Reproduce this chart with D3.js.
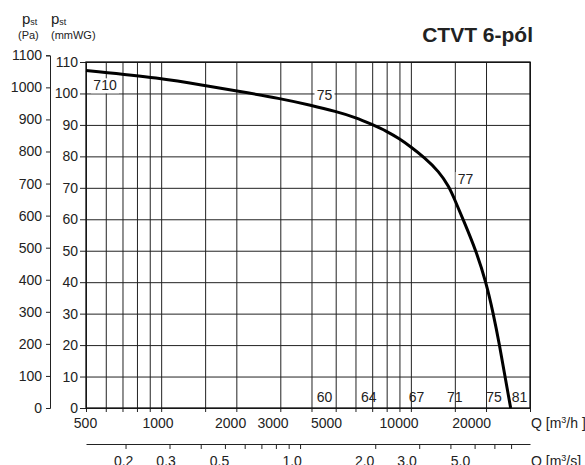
<!DOCTYPE html>
<html>
<head>
<meta charset="utf-8">
<script src="https://cdn.jsdelivr.net/npm/d3@7"></script>
<style>
  body { margin: 0; background: #fff; }
  svg { font-family: "Liberation Sans", Arial, sans-serif; }
  .grid line { stroke: #222; stroke-width: 1; }
  .grid path { display: none; }
</style>
</head>
<body>
<div id="chart"></div>
<script>
// fan curve, Q in m3/h, static pressure in mmWG
const curveQ = [500, 1000, 1500, 2000, 3000, 4000, 5000, 6000, 7000, 8000, 9000, 10000, 11300, 12960, 14210, 15030, 16180, 18250, 20000, 21390, 22650, 23820, 25100];
const curveP = [107.3, 104.9, 102.5, 100.8, 98.4, 96.2, 94.3, 92.4, 90.1, 88.0, 85.6, 83.0, 79.7, 75.2, 70.4, 66.0, 60.0, 50.0, 40.0, 30.0, 20.0, 10.0, 0];

// numbers printed on the chart
const noteText = ['710', '75', '77', '60', '64', '67', '71', '75', '81'];
const noteQ = [596, 4510, 16560, 4510, 6780, 10530, 15000, 21510, 27260];
const noteP = [101, 97.8, 71.2, 2, 2, 2, 2, 2, 2];
const noteBox = [true, true, true, false, false, false, false, false, false];

const gridQ = [500, 600, 700, 800, 900, 1000, 1500, 2000, 3000, 4000, 5000, 6000, 7000, 8000, 9000, 10000, 15000, 20000, 30000];
const labelQ = [500, 1000, 2000, 3000, 5000, 10000, 20000];
const tickS = [0.2, 0.3, 0.4, 0.5, 0.6, 0.7, 0.8, 0.9, 1, 2, 3, 4, 5, 6, 7];
const labelS = [0.2, 0.3, 0.5, 1, 2, 3, 5];
const tickMm = [0, 10, 20, 30, 40, 50, 60, 70, 80, 90, 100, 110];
const tickPa = [0, 100, 200, 300, 400, 500, 600, 700, 800, 900, 1000, 1100];

const W = 585, H = 465;
const plotL = 86, plotR = 530, plotT = 62, plotB = 408;
const PA_PER_MM = 9.81;

const svg = d3.select('#chart').append('svg')
  .attr('width', W).attr('height', H);

const x = d3.scaleLog().domain([500, 30000]).range([plotL, plotR]);
const y = d3.scaleLinear().domain([0, 110]).range([plotB, plotT]);
const yPa = d3.scaleLinear().domain([0, 1100]).range([plotB, y(1100 / PA_PER_MM)]);
const xs = d3.scaleLog().domain([500 / 3600, 30000 / 3600]).range([plotL, plotR]);
// the printed labels sit on a slightly tighter spacing than the grid
const labSpan = 241 * Math.log10(60);
const xLab = d3.scaleLog().domain([500, 30000]).range([plotL - 1, plotL - 1 + labSpan]);
const xsLab = d3.scaleLog().domain([500 / 3600, 30000 / 3600]).range([plotL - 1, plotL - 1 + labSpan]);

// grid
svg.append('g').attr('class', 'grid')
  .attr('transform', `translate(0,${plotB})`)
  .call(d3.axisBottom(x).tickValues(gridQ).tickSize(-(plotB - plotT)).tickFormat(''));
svg.append('g').attr('class', 'grid')
  .attr('transform', `translate(${plotL},0)`)
  .call(d3.axisLeft(y).tickValues(tickMm).tickSize(-(plotR - plotL)).tickFormat(''));

// small ticks under the plot
svg.append('g').attr('class', 'grid')
  .attr('transform', `translate(0,${plotB})`)
  .call(d3.axisBottom(x).tickValues(gridQ).tickSize(4).tickFormat(''));

// Q m3/h labels
const qAxis = svg.append('g')
  .attr('transform', `translate(0,${plotB})`)
  .call(d3.axisBottom(xLab).tickValues(labelQ).tickSize(0).tickPadding(10).tickFormat(d3.format('d')));
qAxis.select('.domain').remove();

// mmWG axis
svg.append('g')
  .attr('transform', `translate(${plotL},0)`)
  .call(d3.axisLeft(y).tickValues(tickMm).tickSize(6).tickPadding(2).tickFormat(d3.format('d')));

// Pa axis
svg.append('g')
  .attr('transform', 'translate(50,0)')
  .call(d3.axisLeft(yPa).tickValues(tickPa).tickSize(4).tickPadding(4).tickFormat(d3.format('d')));

// m3/s axis
svg.append('g')
  .attr('transform', 'translate(0,444)')
  .call(d3.axisBottom(xs).tickValues(tickS).tickSize(5).tickSizeOuter(0).tickFormat(''));
const sLab = svg.append('g')
  .attr('transform', 'translate(0,444)')
  .call(d3.axisBottom(xsLab).tickValues(labelS).tickSize(0).tickPadding(12).tickFormat(d3.format('.1f')));
sLab.select('.domain').remove();

svg.selectAll('.tick text').attr('font-size', 14).attr('fill', '#222')
  .attr('font-family', '"Liberation Sans", Arial, sans-serif');
svg.selectAll('.domain').attr('stroke', '#222');
svg.selectAll('.tick line').attr('stroke', '#222');

// plot frame
svg.append('rect')
  .attr('x', plotL).attr('y', plotT)
  .attr('width', plotR - plotL).attr('height', plotB - plotT)
  .attr('fill', 'none').attr('stroke', '#111').attr('stroke-width', 1.3);

// notes
const notes = noteText.map((t, i) => ({ t, q: noteQ[i], p: noteP[i], box: noteBox[i] }));
const ng = svg.append('g').selectAll('g').data(notes).enter().append('g');
ng.filter(d => d.box).append('rect')
  .attr('x', d => x(d.q) - d.t.length * 4 - 2)
  .attr('y', d => y(d.p) - 12)
  .attr('width', d => d.t.length * 8 + 4)
  .attr('height', 15)
  .attr('fill', '#fff');
ng.append('text')
  .attr('x', d => x(d.q)).attr('y', d => y(d.p))
  .attr('text-anchor', 'middle')
  .attr('font-size', 14).attr('fill', '#222')
  .text(d => d.t);

// curve
const pts = curveQ.map((q, i) => [q, curveP[i]]);
svg.append('path')
  .datum(pts)
  .attr('fill', 'none')
  .attr('stroke', '#000')
  .attr('stroke-width', 3)
  .attr('d', d3.line().x(d => x(d[0])).y(d => y(d[1])).curve(d3.curveBasis));

// titles
svg.append('text')
  .attr('x', 533).attr('y', 41.5)
  .attr('text-anchor', 'end')
  .attr('font-size', 21).attr('font-weight', 'bold').attr('fill', '#222')
  .text('CTVT 6-pól');

const unitQ = svg.append('text').attr('x', 531).attr('y', 428).attr('font-size', 14).attr('fill', '#222');
unitQ.append('tspan').text('Q [m');
unitQ.append('tspan').attr('font-size', 9).attr('dy', -5).text('3');
unitQ.append('tspan').attr('dy', 5).text('/h ]');

const unitS = svg.append('text').attr('x', 531).attr('y', 466).attr('font-size', 14).attr('fill', '#222');
unitS.append('tspan').text('Q [m');
unitS.append('tspan').attr('font-size', 9).attr('dy', -5).text('3');
unitS.append('tspan').attr('dy', 5).text('/s]');

const heads = [[22, '(Pa)'], [51, '(mmWG)']];
heads.forEach(([hx, unit]) => {
  const t = svg.append('text').attr('x', hx).attr('y', 24).attr('font-size', 15).attr('fill', '#222');
  t.append('tspan').text('p');
  t.append('tspan').attr('font-size', 9).attr('dy', 1).text('st');
  svg.append('text').attr('x', hx - (unit === '(Pa)' ? 4 : 0)).attr('y', 39)
    .attr('font-size', 11).attr('fill', '#222').text(unit);
});
</script>
</body>
</html>
